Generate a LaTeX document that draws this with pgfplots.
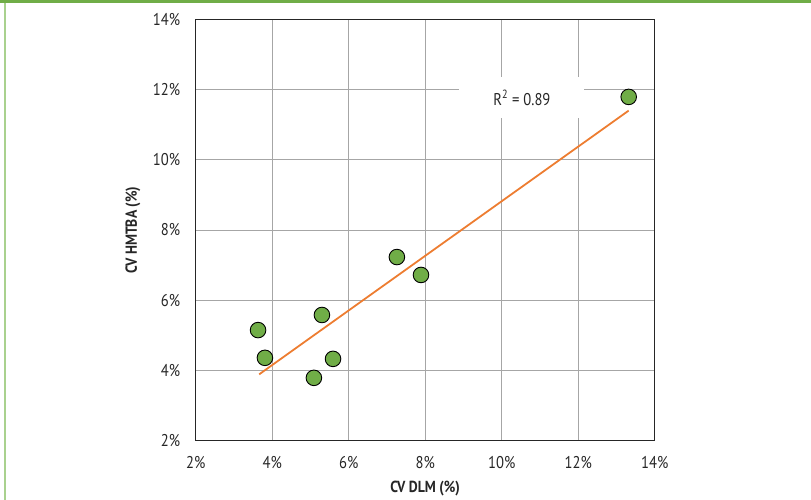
\documentclass[border=0pt]{standalone}
\usepackage{fontspec}
\setmainfont{PT Sans}[FakeStretch=0.86]
\usepackage{pgfplots}
\pgfplotsset{compat=1.18}
\definecolor{ptgreen}{HTML}{70AD47}
\definecolor{lightgreen}{HTML}{A9D18E}
\definecolor{trend}{HTML}{ED7D31}
\definecolor{gridc}{HTML}{A6A6A6}
\begin{document}
\begin{tikzpicture}
\useasboundingbox (0pt,0pt) rectangle (811pt,500pt);
\fill[ptgreen] (0pt,497pt) rectangle (811pt,500pt);
\fill[lightgreen] (4pt,0pt) rectangle (6pt,497pt);
\begin{axis}[
  at={(195.7pt,59.3pt)}, anchor=south west,
  scale only axis, width=459pt, height=421.4pt,
  xmin=2, xmax=14, ymin=2, ymax=14,
  xtick={2,4,...,14}, ytick={2,4,...,14},
  grid=major, major grid style={gridc, line width=0.9pt},
  axis line style={black!85, line width=1pt},
  major tick length=0pt,
  /pgf/number format/assume math mode=true,
  xticklabel={\pgfmathprintnumber{\tick}\%},
  yticklabel={\pgfmathprintnumber{\tick}\%},
  tick label style={font=\fontsize{17}{20}\selectfont, text=black!85},
  xticklabel style={yshift=-12pt},
  yticklabel style={xshift=-12pt},
  xlabel={CV DLM (\%)}, ylabel={CV HMTBA (\%)},
  label style={font=\fontsize{16}{19}\selectfont\bfseries, text=black!85},
  xlabel style={at={(axis description cs:0.5,-0.1139)}, anchor=center},
  ylabel style={at={(axis description cs:-0.1366,0.5)}, anchor=center},
  clip=false,
]
\addplot[only marks, mark=*, mark size=7.8pt,
  mark options={fill=ptgreen, draw=black, line width=0.9pt}]
  coordinates {
  (3.63,5.15) (3.81,4.36) (5.09,3.79) (5.30,5.58)
  (5.59,4.33) (7.26,7.23) (7.89,6.72) (13.32,11.79)
  };
\addplot[trend, line width=1.8pt] coordinates {(3.66,3.89) (13.32,11.40)};
\node[fill=white, minimum width=125pt, minimum height=41pt,
  font=\fontsize{17}{20}\selectfont, text=black!85]
  at (axis cs:10.53,11.76) {R\textsuperscript{2} = 0.89};
\end{axis}
\end{tikzpicture}
\end{document}
